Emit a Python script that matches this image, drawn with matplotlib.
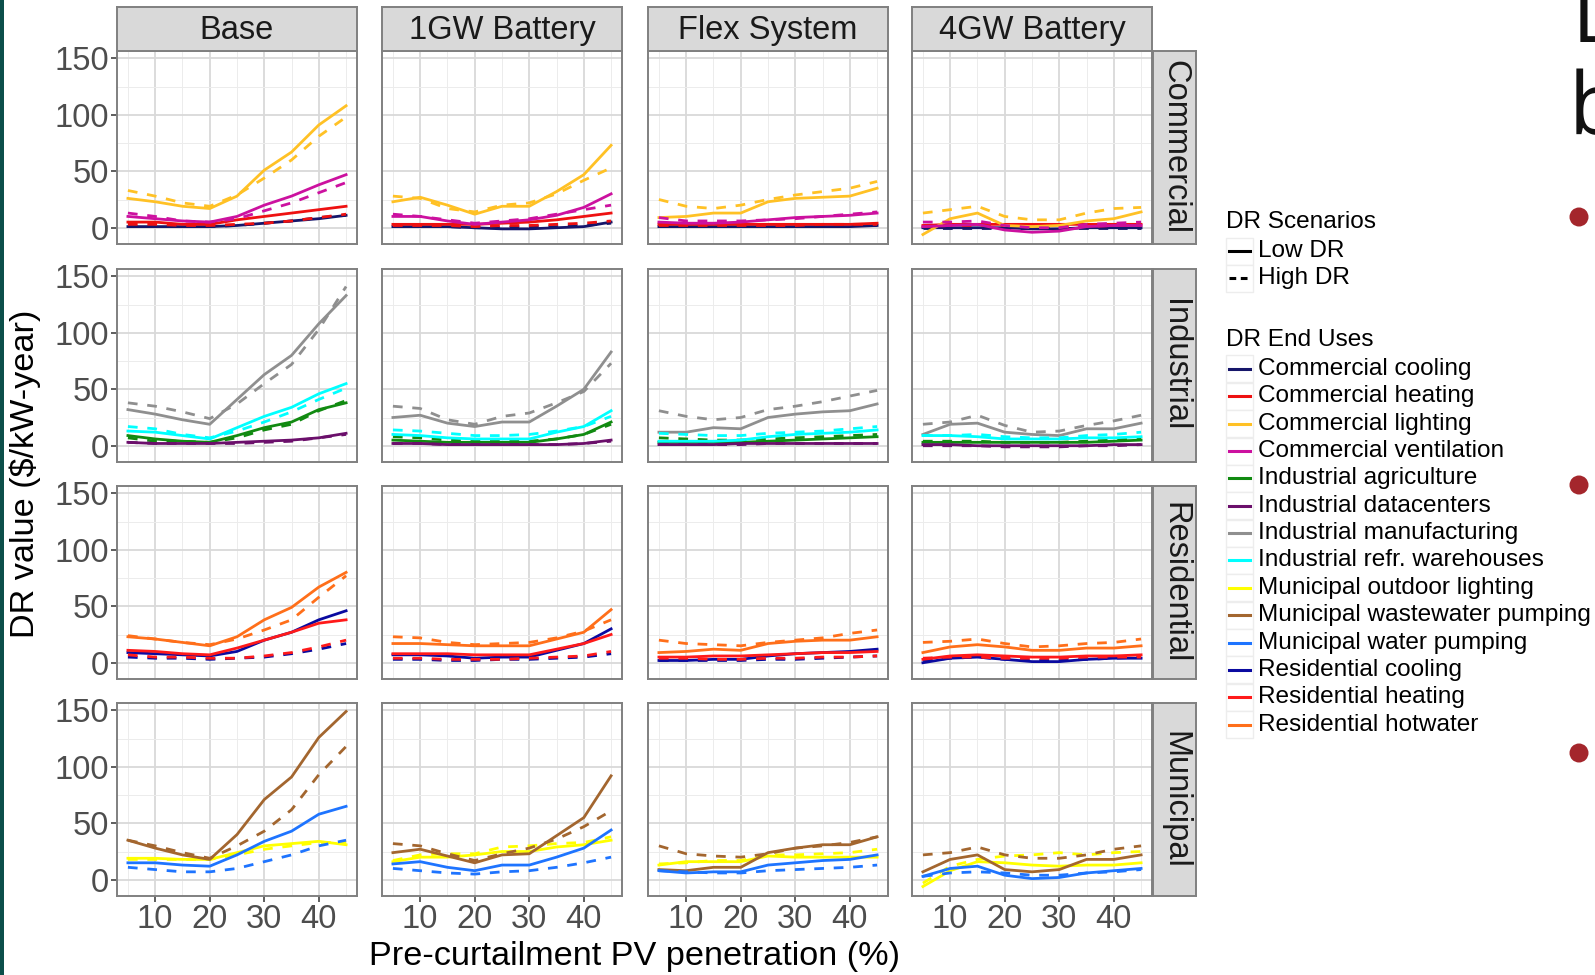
import matplotlib
matplotlib.use("Agg")
import matplotlib.pyplot as plt
from matplotlib.patches import Rectangle, Ellipse
from matplotlib.lines import Line2D

# ---------------- data ----------------
pv_penetration = [5, 10, 15, 20, 25, 30, 35, 40, 45]
x_ticks = [10, 20, 30, 40]
y_ticks = [0, 50, 100, 150]
scenarios = ["Base", "1GW Battery", "Flex System", "4GW Battery"]
sectors = ["Commercial", "Industrial", "Residential", "Municipal"]
dr_levels = ["Low DR", "High DR"]
end_uses = ["Commercial cooling", "Commercial heating", "Commercial lighting",
            "Commercial ventilation", "Industrial agriculture", "Industrial datacenters",
            "Industrial manufacturing", "Industrial refr. warehouses",
            "Municipal outdoor lighting", "Municipal wastewater pumping",
            "Municipal water pumping", "Residential cooling", "Residential heating",
            "Residential hotwater"]

# Commercial
com_base_low = {"Commercial cooling": [1, 1, 1, 1, 2, 4, 6, 8, 11],
                "Commercial heating": [5, 5, 3, 3, 7, 10, 13, 16, 19],
                "Commercial lighting": [26, 23, 19, 17, 28, 51, 67, 91, 108],
                "Commercial ventilation": [10, 8, 6, 5, 10, 20, 28, 38, 47]}
com_base_high = {"Commercial cooling": [1, 1, 1, 1, 2, 4, 6, 9, 11],
                 "Commercial heating": [3, 3, 2, 2, 3, 4, 6, 9, 12],
                 "Commercial lighting": [33, 28, 22, 19, 29, 44, 60, 81, 98],
                 "Commercial ventilation": [13, 10, 6, 5, 8, 15, 22, 31, 40]}
com_1gw_low = {"Commercial cooling": [1, 1, 1, 0, -1, -1, 0, 1, 5],
               "Commercial heating": [3, 3, 3, 3, 4, 5, 7, 10, 13],
               "Commercial lighting": [23, 27, 20, 12, 19, 19, 32, 47, 73],
               "Commercial ventilation": [10, 10, 6, 3, 5, 7, 11, 18, 30]}
com_1gw_high = {"Commercial cooling": [1, 1, 1, 0, 0, 1, 1, 2, 4],
                "Commercial heating": [2, 2, 2, 1, 2, 2, 3, 4, 6],
                "Commercial lighting": [28, 26, 17, 14, 20, 22, 30, 42, 53],
                "Commercial ventilation": [12, 10, 7, 4, 6, 8, 12, 16, 20]}
com_flex_low = {"Commercial cooling": [1, 1, 1, 1, 1, 1, 1, 1, 2],
                "Commercial heating": [3, 3, 3, 3, 3, 3, 3, 3, 4],
                "Commercial lighting": [9, 10, 13, 13, 23, 26, 27, 28, 35],
                "Commercial ventilation": [5, 4, 4, 5, 7, 9, 10, 11, 13]}
com_flex_high = {"Commercial cooling": [1, 1, 1, 1, 1, 1, 1, 2, 2],
                 "Commercial heating": [2, 2, 2, 2, 2, 2, 3, 3, 3],
                 "Commercial lighting": [25, 19, 17, 20, 25, 29, 32, 35, 41],
                 "Commercial ventilation": [9, 6, 6, 6, 7, 8, 10, 12, 14]}
com_4gw_low = {"Commercial cooling": [0, 0, 0, 0, -1, -1, 0, 0, 0],
               "Commercial heating": [2, 3, 3, 3, 3, 3, 3, 3, 3],
               "Commercial lighting": [-6, 8, 13, 2, 1, 2, 6, 8, 14],
               "Commercial ventilation": [1, 2, 3, -2, -4, -3, 1, 2, 2]}
com_4gw_high = {"Commercial cooling": [0, 0, 0, 0, 0, 0, 0, 0, 0],
                "Commercial heating": [1, 2, 2, 2, 2, 1, 1, 2, 2],
                "Commercial lighting": [13, 16, 19, 10, 7, 7, 13, 17, 18],
                "Commercial ventilation": [5, 5, 6, 2, 0, 0, 3, 4, 5]}

# Industrial
ind_base_low = {"Industrial agriculture": [9, 6, 4, 3, 9, 16, 21, 32, 38],
                "Industrial datacenters": [3, 2, 2, 2, 3, 4, 5, 7, 11],
                "Industrial manufacturing": [32, 28, 23, 19, 41, 63, 80, 108, 133],
                "Industrial refr. warehouses": [13, 12, 9, 6, 16, 26, 34, 46, 55]}
ind_base_high = {"Industrial agriculture": [7, 4, 4, 3, 7, 14, 19, 31, 40],
                 "Industrial datacenters": [3, 2, 2, 2, 2, 3, 4, 7, 10],
                 "Industrial manufacturing": [38, 35, 30, 24, 37, 55, 72, 103, 141],
                 "Industrial refr. warehouses": [17, 15, 10, 7, 13, 21, 30, 41, 51]}
ind_1gw_low = {"Industrial agriculture": [5, 4, 3, 3, 3, 3, 6, 10, 21],
               "Industrial datacenters": [2, 2, 1, 1, 1, 1, 1, 2, 5],
               "Industrial manufacturing": [25, 27, 20, 17, 21, 21, 35, 50, 83],
               "Industrial refr. warehouses": [10, 9, 7, 6, 6, 6, 12, 17, 31]}
ind_1gw_high = {"Industrial agriculture": [8, 7, 5, 4, 4, 4, 6, 10, 19],
                "Industrial datacenters": [2, 2, 1, 1, 1, 1, 1, 2, 4],
                "Industrial manufacturing": [35, 33, 23, 19, 26, 29, 38, 48, 73],
                "Industrial refr. warehouses": [14, 13, 11, 9, 9, 10, 13, 17, 26]}
ind_flex_low = {"Industrial agriculture": [3, 3, 3, 3, 4, 5, 6, 7, 8],
                "Industrial datacenters": [1, 1, 1, 2, 2, 2, 2, 2, 2],
                "Industrial manufacturing": [12, 12, 16, 15, 25, 28, 30, 31, 37],
                "Industrial refr. warehouses": [4, 4, 4, 5, 8, 10, 11, 12, 14]}
ind_flex_high = {"Industrial agriculture": [7, 6, 5, 5, 6, 7, 8, 9, 10],
                 "Industrial datacenters": [1, 1, 1, 1, 2, 2, 2, 2, 2],
                 "Industrial manufacturing": [31, 26, 23, 25, 32, 35, 39, 44, 49],
                 "Industrial refr. warehouses": [11, 10, 9, 9, 11, 12, 13, 15, 17]}
ind_4gw_low = {"Industrial agriculture": [3, 3, 3, 3, 3, 3, 3, 4, 5],
               "Industrial datacenters": [1, 1, 0, 0, 0, 0, 0, 1, 1],
               "Industrial manufacturing": [10, 19, 20, 12, 10, 9, 15, 15, 20],
               "Industrial refr. warehouses": [9, 9, 8, 6, 6, 6, 7, 7, 8]}
ind_4gw_high = {"Industrial agriculture": [4, 4, 4, 3, 3, 3, 4, 5, 7],
                "Industrial datacenters": [0, 0, 0, -1, -1, -1, 0, 0, 1],
                "Industrial manufacturing": [19, 21, 27, 18, 12, 13, 18, 22, 27],
                "Industrial refr. warehouses": [9, 9, 10, 8, 7, 7, 9, 10, 12]}

# Residential
res_base_low = {"Residential cooling": [9, 8, 7, 6, 10, 20, 27, 38, 46],
                "Residential heating": [11, 10, 8, 7, 13, 20, 27, 35, 38],
                "Residential hotwater": [23, 21, 18, 15, 23, 38, 49, 67, 80]}
res_base_high = {"Residential cooling": [5, 4, 4, 3, 4, 5, 8, 12, 17],
                 "Residential heating": [7, 5, 5, 4, 4, 6, 9, 14, 20],
                 "Residential hotwater": [24, 21, 18, 16, 21, 29, 38, 58, 77]}
res_1gw_low = {"Residential cooling": [7, 7, 6, 4, 5, 5, 11, 17, 30],
               "Residential heating": [8, 8, 8, 7, 7, 7, 12, 17, 25],
               "Residential hotwater": [17, 17, 16, 15, 15, 15, 21, 27, 47]}
res_1gw_high = {"Residential cooling": [3, 3, 2, 2, 3, 3, 4, 5, 8],
                "Residential heating": [4, 4, 3, 3, 3, 4, 5, 6, 10],
                "Residential hotwater": [23, 22, 18, 16, 17, 18, 22, 28, 38]}
res_flex_low = {"Residential cooling": [2, 2, 3, 3, 6, 8, 9, 10, 12],
                "Residential heating": [5, 5, 6, 6, 7, 8, 9, 9, 10],
                "Residential hotwater": [9, 10, 12, 11, 17, 19, 20, 20, 23]}
res_flex_high = {"Residential cooling": [2, 2, 2, 2, 3, 3, 4, 5, 6],
                 "Residential heating": [4, 4, 3, 3, 4, 4, 5, 5, 6],
                 "Residential hotwater": [20, 17, 16, 15, 18, 20, 22, 26, 29]}
res_4gw_low = {"Residential cooling": [0, 4, 5, 3, 1, 1, 3, 4, 4],
               "Residential heating": [3, 6, 7, 6, 5, 5, 6, 6, 7],
               "Residential hotwater": [9, 14, 16, 14, 11, 11, 13, 13, 15]}
res_4gw_high = {"Residential cooling": [2, 4, 5, 3, 2, 2, 3, 4, 5],
                "Residential heating": [4, 5, 5, 4, 4, 4, 5, 5, 5],
                "Residential hotwater": [18, 19, 21, 17, 14, 15, 17, 18, 21]}

# Municipal
mun_base_low = {"Municipal outdoor lighting": [19, 19, 18, 18, 24, 30, 32, 34, 31],
                "Municipal wastewater pumping": [35, 28, 22, 18, 40, 71, 91, 126, 149],
                "Municipal water pumping": [15, 15, 13, 12, 22, 34, 43, 58, 65]}
mun_base_high = {"Municipal outdoor lighting": [18, 18, 18, 18, 22, 27, 30, 33, 33],
                 "Municipal wastewater pumping": [35, 30, 24, 19, 30, 43, 62, 93, 118],
                 "Municipal water pumping": [11, 9, 7, 7, 10, 16, 22, 30, 35]}
mun_1gw_low = {"Municipal outdoor lighting": [16, 20, 20, 22, 25, 25, 29, 31, 35],
               "Municipal wastewater pumping": [24, 27, 21, 15, 22, 23, 39, 55, 92],
               "Municipal water pumping": [14, 16, 11, 8, 13, 13, 20, 28, 44]}
mun_1gw_high = {"Municipal outdoor lighting": [17, 22, 23, 23, 29, 30, 32, 33, 38],
                "Municipal wastewater pumping": [32, 30, 23, 17, 23, 28, 36, 47, 61],
                "Municipal water pumping": [10, 8, 6, 5, 7, 8, 11, 15, 20]}
mun_flex_low = {"Municipal outdoor lighting": [13, 16, 16, 16, 21, 20, 20, 20, 20],
                "Municipal wastewater pumping": [9, 8, 11, 11, 24, 28, 31, 31, 38],
                "Municipal water pumping": [8, 6, 7, 7, 13, 15, 17, 18, 22]}
mun_flex_high = {"Municipal outdoor lighting": [14, 15, 17, 17, 22, 22, 23, 24, 27],
                 "Municipal wastewater pumping": [30, 23, 21, 20, 23, 28, 30, 33, 38],
                 "Municipal water pumping": [8, 7, 6, 6, 8, 9, 10, 11, 13]}
mun_4gw_low = {"Municipal outdoor lighting": [-6, 8, 16, 15, 13, 12, 13, 13, 15],
               "Municipal wastewater pumping": [7, 18, 22, 9, 7, 9, 18, 18, 22],
               "Municipal water pumping": [3, 10, 12, 4, 1, 2, 6, 8, 10]}
mun_4gw_high = {"Municipal outdoor lighting": [-3, 12, 18, 21, 22, 24, 22, 24, 25],
                "Municipal wastewater pumping": [22, 24, 29, 22, 19, 19, 22, 27, 30],
                "Municipal water pumping": [3, 6, 7, 6, 4, 4, 6, 7, 9]}

panel_data = {
    ("Commercial", "Base"): (com_base_low, com_base_high),
    ("Commercial", "1GW Battery"): (com_1gw_low, com_1gw_high),
    ("Commercial", "Flex System"): (com_flex_low, com_flex_high),
    ("Commercial", "4GW Battery"): (com_4gw_low, com_4gw_high),
    ("Industrial", "Base"): (ind_base_low, ind_base_high),
    ("Industrial", "1GW Battery"): (ind_1gw_low, ind_1gw_high),
    ("Industrial", "Flex System"): (ind_flex_low, ind_flex_high),
    ("Industrial", "4GW Battery"): (ind_4gw_low, ind_4gw_high),
    ("Residential", "Base"): (res_base_low, res_base_high),
    ("Residential", "1GW Battery"): (res_1gw_low, res_1gw_high),
    ("Residential", "Flex System"): (res_flex_low, res_flex_high),
    ("Residential", "4GW Battery"): (res_4gw_low, res_4gw_high),
    ("Municipal", "Base"): (mun_base_low, mun_base_high),
    ("Municipal", "1GW Battery"): (mun_1gw_low, mun_1gw_high),
    ("Municipal", "Flex System"): (mun_flex_low, mun_flex_high),
    ("Municipal", "4GW Battery"): (mun_4gw_low, mun_4gw_high),
}

# ---------------- style ----------------
colors = {"Commercial cooling": "#16166A", "Commercial heating": "#EE1111",
          "Commercial lighting": "#FFC125", "Commercial ventilation": "#CC119F",
          "Industrial agriculture": "#118A11", "Industrial datacenters": "#6B0F6B",
          "Industrial manufacturing": "#8F8F8F", "Industrial refr. warehouses": "#00FFFF",
          "Municipal outdoor lighting": "#FFFF00", "Municipal wastewater pumping": "#A3662F",
          "Municipal water pumping": "#1E74FF", "Residential cooling": "#0A0AA0",
          "Residential heating": "#FF1A1A", "Residential hotwater": "#FF6F1A"}
linestyles = {"Low DR": "-", "High DR": (0, (3.5, 3.5))}

plt.rcParams['font.family'] = ['Liberation Sans', 'DejaVu Sans']
W, H = 1595, 975
fig = plt.figure(figsize=(W / 100, H / 100), dpi=100)


def axes_px(x0, y0, w, h, **kw):
    return fig.add_axes([x0 / W, 1 - (y0 + h) / H, w / W, h / H], **kw)


# slide background pieces
fig.patches.append(Rectangle((0, 0), 4 / W, 1, transform=fig.transFigure,
                             facecolor="#0C4F4A", edgecolor="none"))
fig.text(1572 / W, 1 - 42 / H, "L", fontsize=62, family="Open Sans", color="#111111",
         ha="left", va="baseline")
fig.text(1569 / W, 1 - 134 / H, "b", fontsize=62, family="Open Sans", color="#111111",
         ha="left", va="baseline")
for by in [217, 485, 753]:
    fig.patches.append(Ellipse((1579 / W, 1 - by / H), 19 / W, 19 / H,
                               transform=fig.transFigure,
                               facecolor="#A4262C", edgecolor="none"))

col_left = [117, 382, 648, 912]
row_top = [51, 269, 486, 703]
pw, ph = 240, 193
ylim = (-14.4, 156.5)
xlim = (3, 47)
txt_size = 23.5
title_size = 24.7
tick_color = "#4D4D4D"
border = "#808080"

for r, sec in enumerate(sectors):
    for c, scen in enumerate(scenarios):
        ax = axes_px(col_left[c], row_top[r], pw, ph)
        ax.set_xlim(*xlim)
        ax.set_ylim(*ylim)
        ax.set_xticks(x_ticks)
        ax.set_xticks([5, 15, 25, 35, 45], minor=True)
        ax.set_yticks(y_ticks)
        ax.set_yticks([25, 75, 125], minor=True)
        ax.grid(True, which="major", color="#D9D9D9", lw=1.3, zorder=0)
        ax.grid(True, which="minor", color="#ECECEC", lw=0.7, zorder=0)
        ax.set_axisbelow(True)
        for sp in ax.spines.values():
            sp.set_color(border)
            sp.set_linewidth(1.4)
        ax.tick_params(which="minor", length=0)
        ax.tick_params(which="major", length=4, width=1.1, color="#333333",
                       labelsize=txt_size, labelcolor=tick_color, pad=2)
        if c != 0:
            ax.tick_params(axis="y", length=0, labelleft=False)
        if r != len(sectors) - 1:
            ax.tick_params(axis="x", length=0, labelbottom=False)
        low, high = panel_data[(sec, scen)]
        for eu in end_uses:
            if eu in high:
                ax.plot(pv_penetration, high[eu], color=colors[eu],
                        ls=linestyles["High DR"], lw=2.0, zorder=3)
            if eu in low:
                ax.plot(pv_penetration, low[eu], color=colors[eu],
                        ls=linestyles["Low DR"], lw=2.0, zorder=3)
        # top strip
        if r == 0:
            sax = axes_px(col_left[c], 7, pw, 44)
            sax.set_xticks([]); sax.set_yticks([])
            sax.set_facecolor("#D9D9D9")
            for sp in sax.spines.values():
                sp.set_color(border); sp.set_linewidth(1.4)
            sax.text(0.5, 0.47, scen, ha="center", va="center", fontsize=txt_size,
                     color="#1A1A1A", transform=sax.transAxes)
        # right strip
        if c == len(scenarios) - 1:
            sax = axes_px(1153, row_top[r], 43, ph)
            sax.set_xticks([]); sax.set_yticks([])
            sax.set_facecolor("#D9D9D9")
            for sp in sax.spines.values():
                sp.set_color(border); sp.set_linewidth(1.4)
            sax.text(0.5, 0.5, sec, ha="center", va="center", fontsize=txt_size,
                     color="#1A1A1A", rotation=-90, transform=sax.transAxes)

# axis titles
fig.text(((col_left[0] + col_left[-1] + pw) / 2) / W, 1 - 957 / H,
         "Pre-curtailment PV penetration (%)", ha="center", va="center",
         fontsize=title_size, color="black")
fig.text(25 / W, 1 - ((row_top[0] + row_top[-1] + ph) / 2) / H,
         "DR value (\\$/kW-year)", ha="center", va="center", rotation=90,
         fontsize=title_size, color="black")

# legends
leg_size = 17.6
kx0, kw = 1226, 27
tx = 1258


def key_box(yc, color, ls):
    fig.patches.append(Rectangle((kx0 / W, 1 - (yc + kw / 2) / H), kw / W, kw / H,
                                 transform=fig.transFigure, facecolor="white",
                                 edgecolor="#EDEDED", lw=1.0))
    fig.lines.append(Line2D([(kx0 + 3) / W, (kx0 + kw - 3) / W], [1 - yc / H, 1 - yc / H],
                            transform=fig.transFigure, color=color, ls=ls, lw=2.2))


fig.text(kx0 / W, 1 - 222 / H, "DR Scenarios", ha="left", va="center",
         fontsize=leg_size, color="black")
for i, lvl in enumerate(dr_levels):
    yc = 251 + 27.3 * i
    key_box(yc, "black", "-" if lvl == "Low DR" else (0, (2.2, 1.5)))
    fig.text(tx / W, 1 - yc / H, lvl, ha="left", va="center", fontsize=leg_size,
             color="black")

fig.text(kx0 / W, 1 - 340 / H, "DR End Uses", ha="left", va="center",
         fontsize=leg_size, color="black")
for i, eu in enumerate(end_uses):
    yc = 369 + 27.35 * i
    key_box(yc, colors[eu], "-")
    fig.text(tx / W, 1 - yc / H, eu, ha="left", va="center", fontsize=leg_size,
             color="black")

fig.savefig("out.png", dpi=100, facecolor="white")
